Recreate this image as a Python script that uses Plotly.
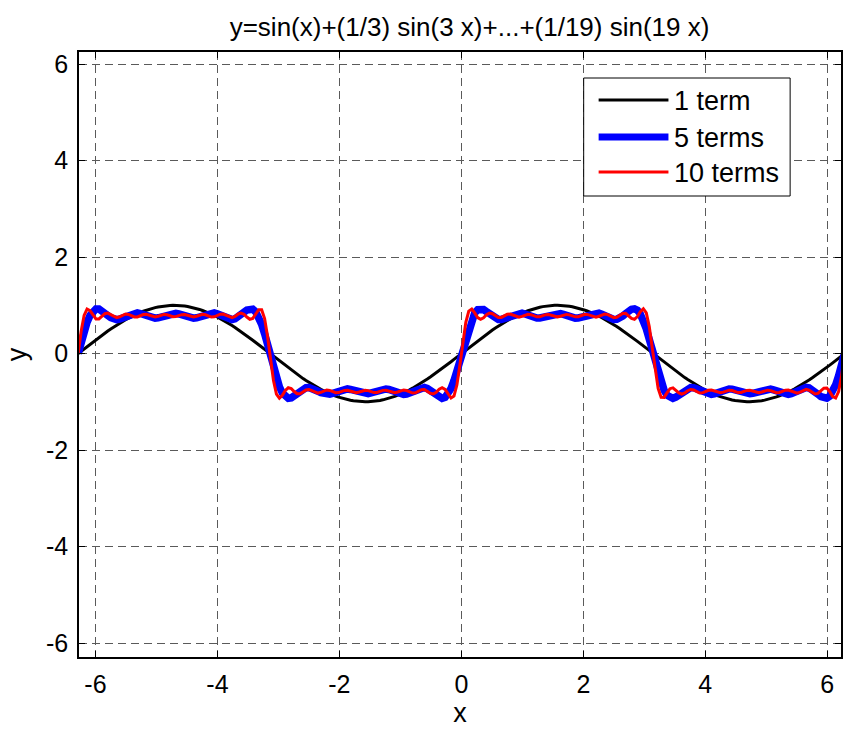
import numpy as np
import plotly.graph_objects as go

# Data: odd harmonics and their coefficients from the title formula
harmonics = [1, 3, 5, 7, 9, 11, 13, 15, 17, 19]
coefficients = [1, 1/3, 1/5, 1/7, 1/9, 1/11, 1/13, 1/15, 1/17, 1/19]
series_terms = [1, 5, 10]
series_names = ["1 term", "5 terms", "10 terms"]
series_colors = ["#000000", "#0000ff", "#ff0000"]
series_widths = [3, 7.5, 3]
tick_values = [-6, -4, -2, 0, 2, 4, 6]
tick_labels = ["-6", "-4", "-2", "0", "2", "4", "6"]

x = np.linspace(-2 * np.pi, 2 * np.pi, 260)

fig = go.Figure()
for n, name, color, w in zip(series_terms, series_names, series_colors, series_widths):
    y = np.zeros_like(x)
    for h, c in zip(harmonics[:n], coefficients[:n]):
        y = y + c * np.sin(h * x)
    fig.add_trace(go.Scatter(x=x, y=y, mode="lines", name=name,
                             line=dict(color=color, width=w), showlegend=False))

font_family = "Liberation Sans, Arial, sans-serif"
axis_common = dict(
    showline=True, linecolor="black", linewidth=1.5, mirror="ticks",
    ticks="inside", ticklen=6, tickwidth=1, tickcolor="black",
    showgrid=True, gridcolor="rgb(90,90,90)", gridwidth=1, griddash="8px,5px",
    zeroline=False,
    tickvals=tick_values, ticktext=tick_labels,
    tickfont=dict(family=font_family, size=25, color="black"),
)

# Legend box (MATLAB-style) built from the series names/colours
L, T = 79, 52
PW, PH = 764, 605
def px(v):
    return (v - L) / PW
def py(v):
    return (T + PH - v) / PH

shapes = [dict(type="rect", xref="paper", yref="paper",
               x0=px(585), x1=px(792), y0=py(196), y1=py(78),
               line=dict(color="black", width=1), fillcolor="white", layer="above")]
annotations = []
row_y = [100, 137, 172]
for name, color, w, ry in zip(series_names, series_colors, series_widths, row_y):
    shapes.append(dict(type="line", xref="paper", yref="paper",
                       x0=px(600), x1=px(670), y0=py(ry), y1=py(ry),
                       line=dict(color=color, width=min(w, 7)), layer="above"))
    annotations.append(dict(text=name, xref="paper", yref="paper",
                            x=px(674), y=py(ry + 1), xanchor="left", yanchor="middle",
                            showarrow=False,
                            font=dict(family=font_family, size=27, color="black")))

fig.update_layout(
    width=843, height=729,
    margin=dict(l=79, r=0, t=52, b=72),
    paper_bgcolor="white", plot_bgcolor="white",
    title=dict(text="y=sin(x)+(1/3) sin(3 x)+...+(1/19) sin(19 x)",
               font=dict(family=font_family, size=26, color="black"),
               x=0.557, xanchor="center", y=0.963, yanchor="middle"),
    xaxis=dict(range=[-6.27, 6.225],
               title=dict(text="x", font=dict(family=font_family, size=27, color="black"), standoff=2),
               ticklabelstandoff=4,
               **axis_common),
    yaxis=dict(range=[-6.29, 6.25],
               title=dict(text="y", font=dict(family=font_family, size=27, color="black"), standoff=12),
               ticklabelstandoff=4,
               **axis_common),
    shapes=shapes,
    annotations=annotations,
    showlegend=False,
)

fig.write_html("out.html")
